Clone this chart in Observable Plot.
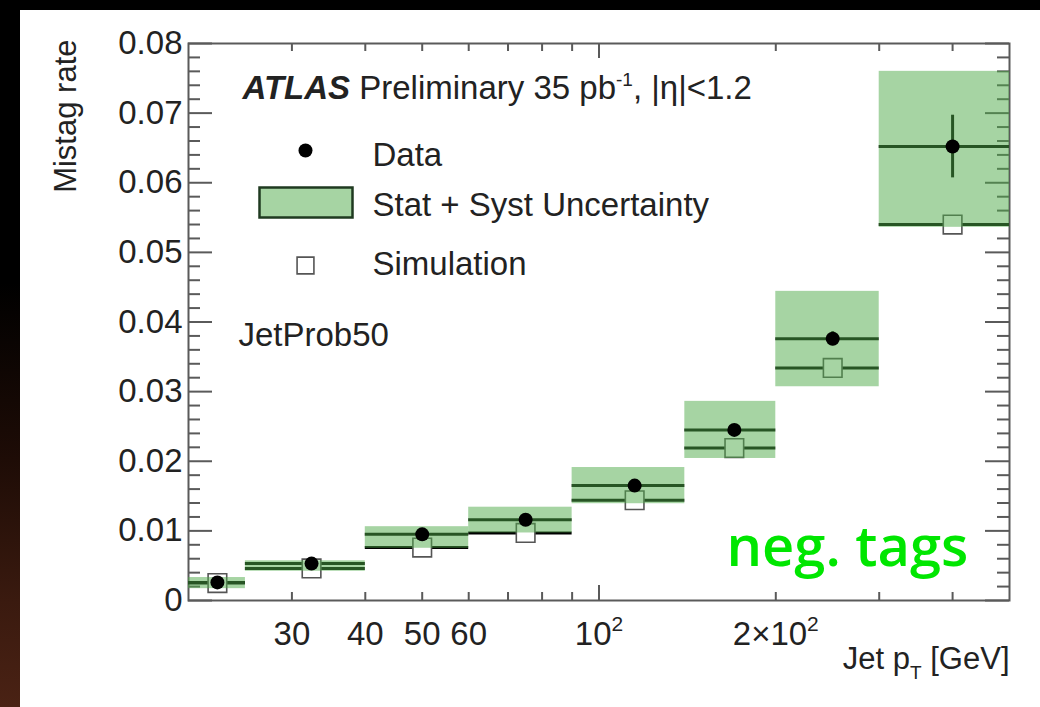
<!DOCTYPE html>
<html>
<head>
<meta charset="utf-8">
<script src="https://cdn.jsdelivr.net/npm/d3@7"></script>
<script src="https://cdn.jsdelivr.net/npm/@observablehq/plot@0.6"></script>
<style>
  html, body { margin: 0; padding: 0; background: #000; width: 1040px; height: 707px; overflow: hidden; }
  #strip { position: absolute; left: 0; top: 0; width: 20px; height: 707px;
    background: linear-gradient(to bottom, #000 0%, #000 40%, #1e0c06 65%, #3a1a0f 85%, #4a2214 100%); }
  #panel { position: absolute; left: 20px; top: 10px; width: 1020px; height: 697px; background: #fff; }
</style>
</head>
<body>
<div id="strip"></div>
<div id="panel"></div>
<script>
// ---- data ----
const binLo  = [20, 25, 40, 60, 90, 140, 200, 300];
const binHi  = [25, 40, 60, 90, 140, 200, 300, 500];
const ptX    = [22.4, 32.4, 50, 75, 115, 170, 250, 400];
const dataY  = [0.0026, 0.0053, 0.0095, 0.0116, 0.0165, 0.0245, 0.0376, 0.0652];
const statErr= [0.0001, 0.0001, 0.0002, 0.0003, 0.0004, 0.0006, 0.0010, 0.0045];
const simY   = [0.0025, 0.0046, 0.0076, 0.0097, 0.0144, 0.0219, 0.0334, 0.0540];
const bandLo = [0.0017, 0.0042, 0.0075, 0.0097, 0.0139, 0.0204, 0.0307, 0.0536];
const bandHi = [0.0033, 0.0057, 0.0106, 0.0134, 0.0191, 0.0286, 0.0444, 0.0760];

// ---- axis ticks & labels ----
const xLabelVals = [30, 40, 50, 60, 100, 200];
const xLabelText = ["30", "40", "50", "60", "10²", "2×10²"];
const xMinorTicks = [30, 40, 50, 60, 70, 80, 90, 200, 300, 400];
const xMajorTicks = [100];
const yLabelVals = [0, 0.01, 0.02, 0.03, 0.04, 0.05, 0.06, 0.07, 0.08];
const yLabelText = ["0", "0.01", "0.02", "0.03", "0.04", "0.05", "0.06", "0.07", "0.08"];
const yMinorTicks = [0.002, 0.004, 0.006, 0.008, 0.012, 0.014, 0.016, 0.018,
  0.022, 0.024, 0.026, 0.028, 0.032, 0.034, 0.036, 0.038, 0.042, 0.044, 0.046, 0.048,
  0.052, 0.054, 0.056, 0.058, 0.062, 0.064, 0.066, 0.068, 0.072, 0.074, 0.076, 0.078];

const rows = binLo.map((lo, i) => ({
  lo, hi: binHi[i], x: ptX[i], data: dataY[i], sim: simY[i],
  eLo: dataY[i] - statErr[i], eHi: dataY[i] + statErr[i],
  bLo: bandLo[i], bHi: bandHi[i]
}));

const xLabelMap = new Map(xLabelVals.map((v, i) => [v, xLabelText[i]]));
const yLabelMap = new Map(yLabelVals.map((v, i) => [v, yLabelText[i]]));

const W = 1020, H = 697;
const mL = 168, mR = 31, mT = 33, mB = 107;
const FW = W - mL - mR, FH = H - mT - mB;

const axisCol = "#5a5a5a";
const textCol = "#222";
const fs = 33;

const boxSymbol = { draw(ctx) { ctx.rect(-46, -15, 93, 30); } };

const chart = Plot.plot({
  width: W, height: H,
  marginLeft: mL, marginRight: mR, marginTop: mT, marginBottom: mB,
  style: { fontFamily: "'Liberation Sans', Arial, Helvetica, sans-serif", background: "white", color: textCol, overflow: "visible" },
  x: { type: "log", domain: [20, 500] },
  y: { domain: [0, 0.08] },
  marks: [
    // ticks (inward)
    Plot.ruleX(xMinorTicks, { stroke: axisCol, strokeWidth: 2, insetTop: FH - 8 }),
    Plot.ruleX(xMinorTicks, { stroke: axisCol, strokeWidth: 2, insetBottom: FH - 8 }),
    Plot.ruleX(xMajorTicks, { stroke: axisCol, strokeWidth: 2, insetTop: FH - 15 }),
    Plot.ruleX(xMajorTicks, { stroke: axisCol, strokeWidth: 2, insetBottom: FH - 15 }),
    Plot.ruleY(yMinorTicks, { stroke: axisCol, strokeWidth: 2, insetRight: FW - 12 }),
    Plot.ruleY(yMinorTicks, { stroke: axisCol, strokeWidth: 2, insetLeft: FW - 12 }),
    Plot.ruleY(yLabelVals, { stroke: axisCol, strokeWidth: 2, insetRight: FW - 24 }),
    Plot.ruleY(yLabelVals, { stroke: axisCol, strokeWidth: 2, insetLeft: FW - 24 }),
    Plot.frame({ stroke: axisCol, strokeWidth: 2 }),
    // tick labels
    Plot.axisX({ anchor: "bottom", ticks: xLabelVals, tickSize: 0, tickPadding: 21, fontSize: fs, label: null,
      tickFormat: d => xLabelMap.get(d), fill: textCol }),
    Plot.axisY({ anchor: "left", ticks: yLabelVals, tickSize: 0, tickPadding: 6, fontSize: fs, label: null,
      tickFormat: d => yLabelMap.get(d), fill: textCol }),
    // data: horizontal bin lines, error bars, simulation squares
    Plot.ruleY(rows, { y: "sim", x1: "lo", x2: "hi", stroke: "black", strokeWidth: 3 }),
    Plot.ruleY(rows, { y: "data", x1: "lo", x2: "hi", stroke: "black", strokeWidth: 3 }),
    Plot.ruleX(rows, { x: "x", y1: "eLo", y2: "eHi", stroke: "black", strokeWidth: 3 }),
    Plot.dot(rows, { x: "x", y: "sim", symbol: "square", r: 10.5, fill: "white", stroke: "#555", strokeWidth: 1.6 }),
    // uncertainty band (translucent, on top)
    Plot.rect(rows, { x1: "lo", x2: "hi", y1: "bLo", y2: "bHi", fill: "rgb(77,169,71)", fillOpacity: 0.5 }),
    Plot.dot(rows, { x: "x", y: "data", r: 7, fill: "black" }),
    // legend
    Plot.text(["ATLAS Preliminary 35 pb-1, |η|<1.2"], { className: "atlas", frameAnchor: "top-left", dx: 54, dy: 55,
      textAnchor: "start", lineAnchor: "bottom", fontSize: fs, fill: textCol }),
    Plot.dot([null], { frameAnchor: "top-left", dx: 117, dy: 107, r: 7, fill: "black" }),
    Plot.dot([null], { frameAnchor: "top-left", dx: 117, dy: 159, symbol: boxSymbol, fill: "#a6d4a3", stroke: "#1f3a20", strokeWidth: 2.5 }),
    Plot.dot([null], { frameAnchor: "top-left", dx: 117, dy: 222, symbol: "square", r: 9.5, fill: "white", stroke: "#555", strokeWidth: 1.6 }),
    Plot.text(["Data"], { frameAnchor: "top-left", dx: 184, dy: 122, textAnchor: "start", lineAnchor: "bottom", fontSize: fs, fill: textCol }),
    Plot.text(["Stat + Syst Uncertainty"], { frameAnchor: "top-left", dx: 184, dy: 172, textAnchor: "start", lineAnchor: "bottom", fontSize: fs, fill: textCol }),
    Plot.text(["Simulation"], { frameAnchor: "top-left", dx: 184, dy: 231, textAnchor: "start", lineAnchor: "bottom", fontSize: fs, fill: textCol }),
    Plot.text(["JetProb50"], { frameAnchor: "top-left", dx: 50, dy: 302, textAnchor: "start", lineAnchor: "bottom", fontSize: fs, fill: textCol }),
    Plot.text(["neg. tags"], { frameAnchor: "top-left", dx: 538, dy: 522, textAnchor: "start", lineAnchor: "bottom",
      fontSize: 56, fontWeight: 600, fontFamily: "'Open Sans', 'Noto Sans', sans-serif", fill: "#00e600" }),
    // axis titles
    Plot.text(["Mistag rate"], { frameAnchor: "top-left", dx: -113, dy: -4, rotate: -90, textAnchor: "end", lineAnchor: "bottom", fontSize: 31, fill: textCol }),
    Plot.text(["Jet pT [GeV]"], { className: "xtitle", frameAnchor: "bottom-right", dx: 0, dy: 68, textAnchor: "end", lineAnchor: "bottom", fontSize: 31, fill: textCol })
  ]
});

// rich text: bold-italic ATLAS, superscript, subscript
const atlas = d3.select(chart).select("g.atlas text");
atlas.text(null);
atlas.append("tspan").attr("font-weight", "bold").attr("font-style", "italic").text("ATLAS");
atlas.append("tspan").text(" Preliminary 35 pb");
atlas.append("tspan").attr("dy", -13).attr("font-size", 19).text("-1");
atlas.append("tspan").attr("dy", 13).text(", |η|<1.2");

const xt = d3.select(chart).select("g.xtitle text");
xt.text(null);
xt.append("tspan").text("Jet p");
xt.append("tspan").attr("dy", 10).attr("font-size", 19).text("T");
xt.append("tspan").attr("dy", -10).text(" [GeV]");

// tick labels with a power of ten: real superscript exponent
d3.select(chart).selectAll("text").each(function () {
  const s = this.textContent;
  if (s.endsWith("²")) {
    const t = d3.select(this);
    t.text(null);
    t.append("tspan").text(s.slice(0, -1));
    t.append("tspan").attr("dy", -14).attr("font-size", 21).text("2");
  }
});

document.getElementById("panel").append(chart);
</script>
</body>
</html>
